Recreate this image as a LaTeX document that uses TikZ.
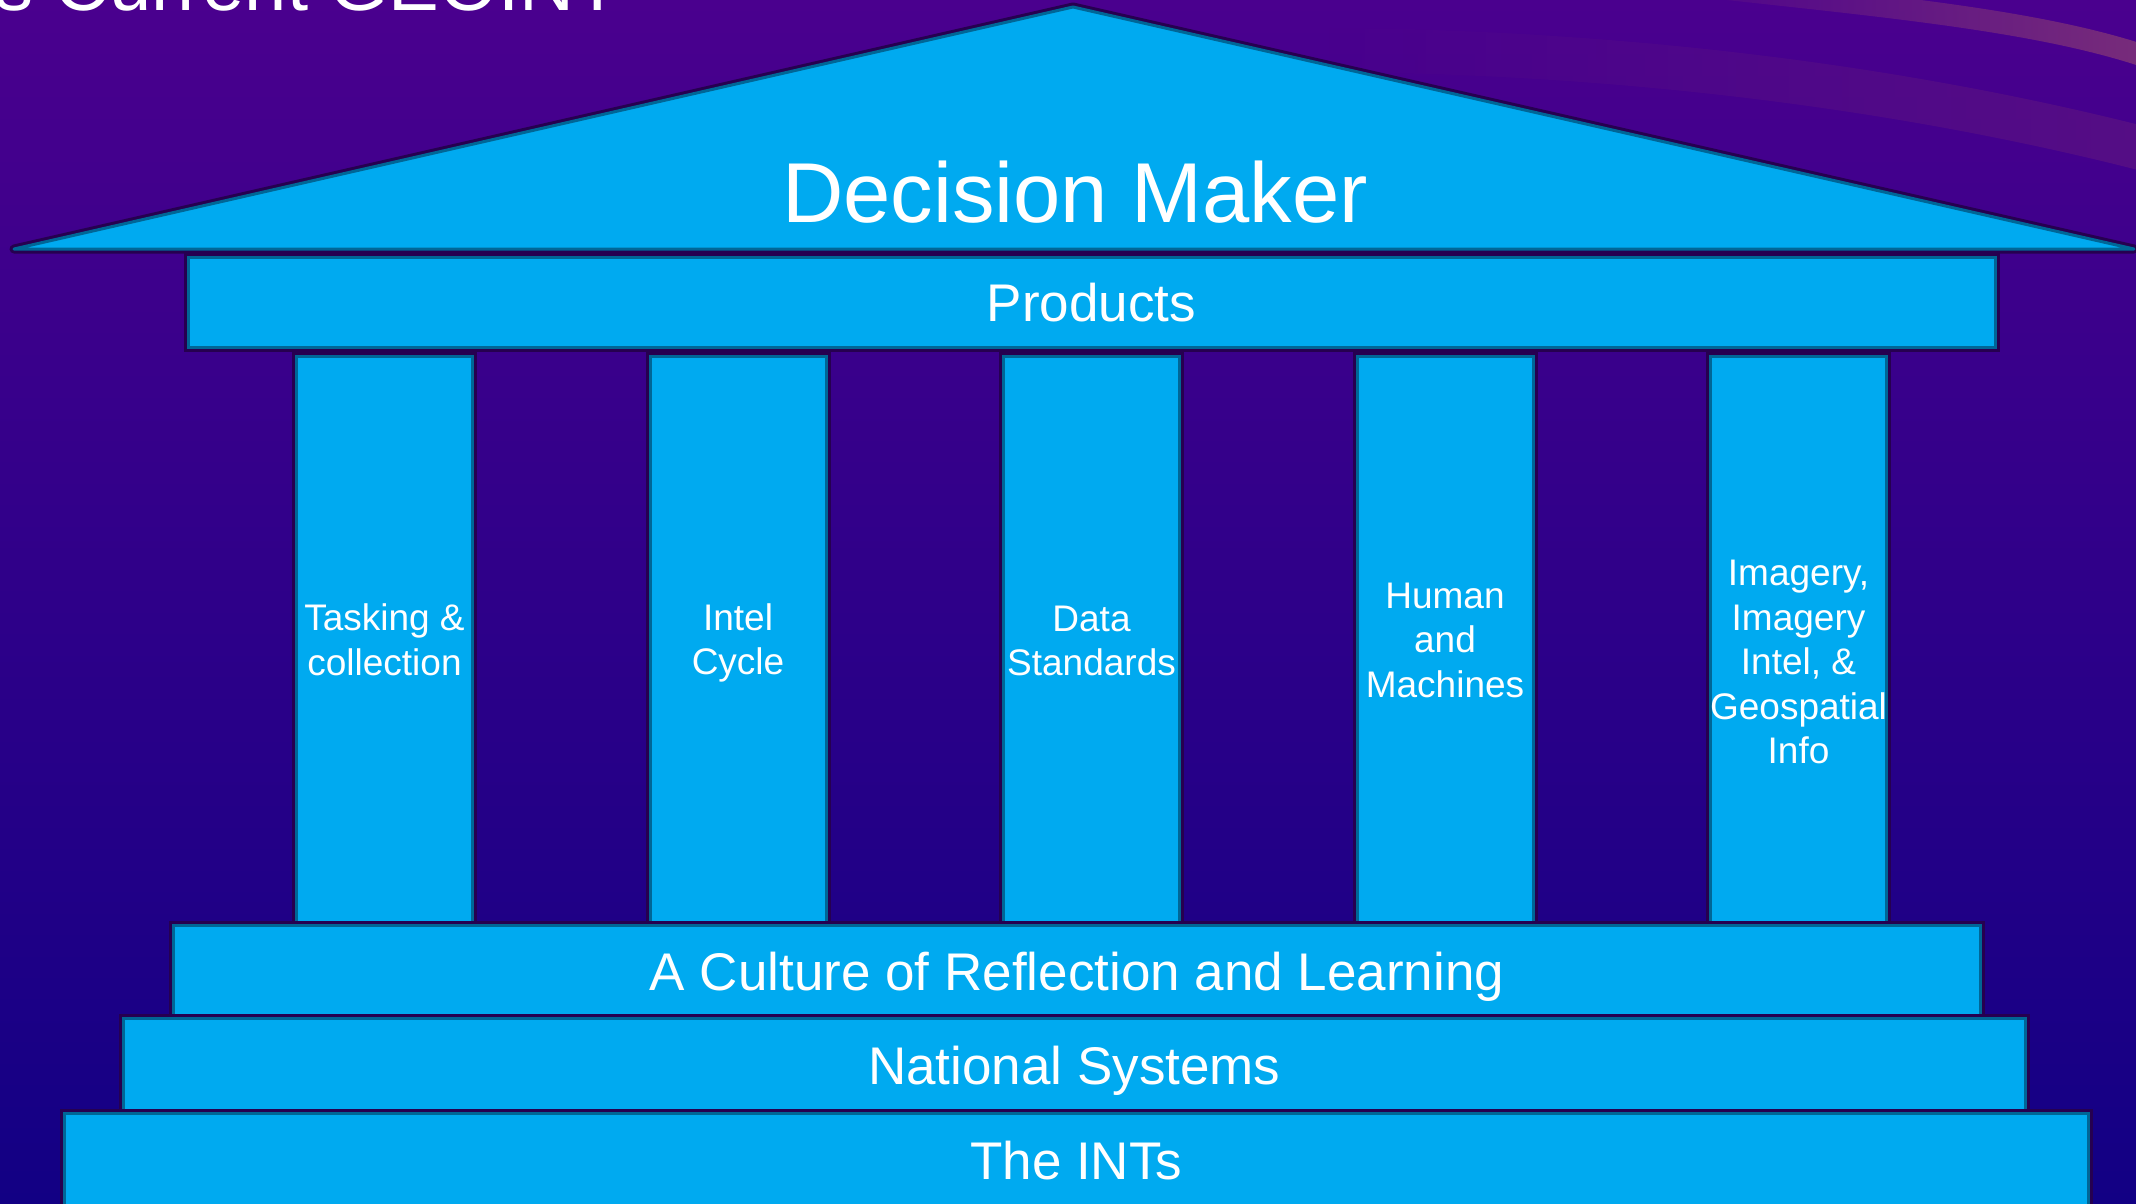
\documentclass[tikz,border=0pt]{standalone}
\usepackage{fontspec}
\setmainfont{Liberation Sans}
\usetikzlibrary{fadings}
\definecolor{bgtop}{RGB}{74,0,142}
\definecolor{bgbot}{RGB}{18,0,132}
\definecolor{pfill}{RGB}{0,170,240}
\definecolor{pedge}{RGB}{0,102,150}
\definecolor{pshadow}{RGB}{38,0,80}
\definecolor{swooshA}{RGB}{122,46,122}
\definecolor{swooshB}{RGB}{88,16,132}
\tikzfading[name=fadeB, left color=transparent!100, right color=transparent!10]
\tikzfading[name=fadeA, left color=transparent!90, right color=transparent!0]
\begin{document}
\begin{tikzpicture}[x=1pt,y=-1pt,
  slab/.style={rectangle, inner sep=0pt, fill=pfill, draw=pedge, line width=3pt,
    preaction={draw=pshadow, line width=9pt}, text=white, text height=38pt, text depth=0pt},
  barfont/.style={font=\fontsize{53}{64}\selectfont},
  column/.style={slab, minimum width=176pt, minimum height=568pt},
  coltext/.style={text=white, align=center, inner sep=0pt, font=\fontsize{37}{44.5}\selectfont},
  roof/.style={fill=pfill, draw=pedge, line width=3pt, line join=round,
    preaction={draw=pshadow, line width=9pt, line join=round}},
  swoosh/.style={line cap=butt}
]
\useasboundingbox (0,0) rectangle (2136,1203);
% background
\shade[top color=bgtop, bottom color=bgbot] (0,0) rectangle (2136,1203);
\draw[swoosh, swooshB, line width=44pt, path fading=fadeB] (1330,50) .. controls (1620,52) and (1900,86) .. (2150,150);
\draw[swoosh, swooshA, line width=22pt, path fading=fadeA] (1700,-14) .. controls (1880,6) and (2040,20) .. (2150,58);
% cut-off title
\node[anchor=base east, inner sep=0pt, text=white, font=\fontsize{76}{90}\selectfont] (title) at (621,10) {s Current GEOINT};
% roof
\draw[roof] (14,249) -- (1073,7) -- (2134,249) -- cycle;
\node[anchor=base, inner sep=0pt, text=white, font=\fontsize{85}{100}\selectfont] (dm) at (1075,222) {Decision Maker};
% products
\node[slab, barfont, minimum width=1807pt, minimum height=90pt] (products) at (1091.5,302) {Products};
% columns
\node[column] (c1) at (384.5,640) {};
\node[column] (c2) at (738,640) {};
\node[column] (c3) at (1091.5,640) {};
\node[column] (c4) at (1445,640) {};
\node[column] (c5) at (1798.5,640) {};
\node[coltext] (t1) at ([yshift=0pt]c1.center) {Tasking \&\\collection};
\node[coltext] (t2) at ([yshift=-3pt]c2.center) {Intel\\Cycle};
\node[coltext] (t3) at ([yshift=-1pt]c3.center) {Data\\Standards};
\node[coltext] (t4) at ([yshift=0pt]c4.center) {Human\\and\\Machines};
\node[coltext] (t5) at ([yshift=-22pt]c5.center) {Imagery,\\Imagery\\Intel, \&\\Geospatial\\Info};
% base steps
\node[slab, barfont, minimum width=1807pt, minimum height=92.5pt] (culture) at (1077,971.75) {A Culture of Reflection and Learning};
\node[slab, barfont, minimum width=1902.5pt, minimum height=95.5pt] (national) at (1074.25,1065.75) {National Systems};
\node[slab, barfont, minimum width=2023.5pt, minimum height=93.5pt] (ints) at (1076.25,1160.25) {The INTs};
\end{tikzpicture}
\end{document}
